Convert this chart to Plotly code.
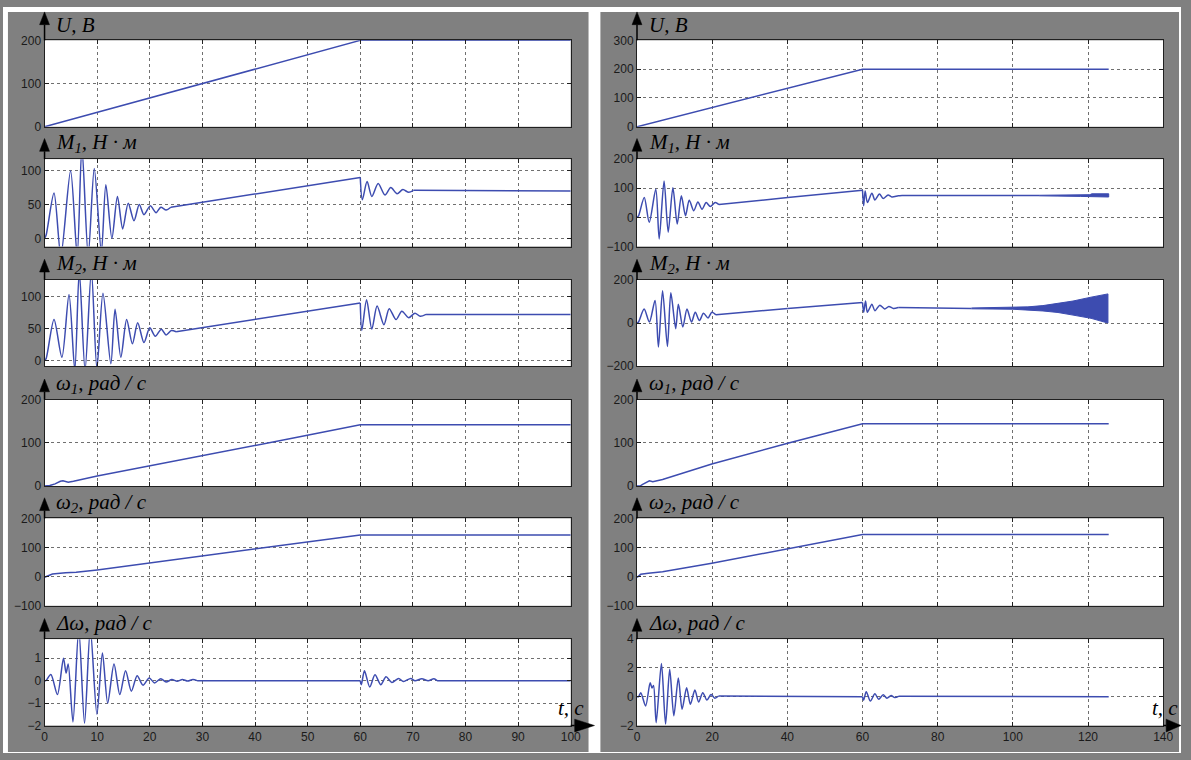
import plotly.graph_objects as go

# ---------------- data ----------------
# Left panel (0..100 s)
L_t_U = [0, 60, 100]
L_U = [0, 200, 200]

L_t_M1 = [0, 0.3, 1.8, 3.1, 4.95, 6.2, 7.1, 8.3, 9.45, 10.8, 11.65, 12.8, 13.85, 14.85, 15.9, 17.0,
          18.0, 18.9, 20.1, 21.2, 22.1, 23.1, 24.0, 60, 60.4, 61.3, 62.2, 63.4, 64.7, 65.8, 67.0,
          68.1, 69.2, 70.1, 100]
L_M1 = [0, 5, 67, -25, 100, -25, 135, -25, 103, -20, 79, 0, 62, 14, 52, 26,
        50, 35, 48, 38, 46, 42, 46, 90, 57, 84, 62, 81, 64, 75, 66,
        72, 68, 71, 70]

L_t_M2 = [0, 0.3, 1.8, 3.3, 4.65, 5.75, 6.6, 7.7, 8.9, 9.95, 11.1, 12.6, 13.4, 14.5, 15.6, 16.7,
          17.7, 18.9, 20.0, 21.05, 22.2, 23.1, 24.1, 25.0, 60, 60.3, 61.2, 62.2, 63.2, 64.5, 65.5,
          66.8, 67.9, 69.2, 70.4, 71.4, 72.5, 100]
L_M2 = [0, 3, 64, 5, 103, -15, 140, -15, 140, -12, 105, -5, 80, 5, 64, 26,
        59, 28, 51, 38, 49, 40, 47, 45, 90, 47, 95, 49, 85, 56, 81,
        64, 77, 67, 74, 69, 72, 72]

L_t_W1 = [0, 1, 2, 3, 3.5, 4.5, 5.5, 7, 10, 48.5, 60, 100]
L_W1 = [0, 1, 5, 11, 12, 9, 11, 15, 23, 114, 142, 142]

L_t_W2 = [0, 1.5, 4, 6, 10, 48.5, 60, 100]
L_W2 = [-2, 9, 13, 15, 23, 117, 143, 143]

L_t_DW = [0, 0.25, 1.2, 2.45, 3.6, 4.1, 4.5, 5.4, 6.5, 7.6, 8.7, 9.95, 11.0, 12.0, 13.2, 14.3, 15.4,
          16.5, 17.6, 18.7, 19.9, 20.9, 22.1, 23.1, 24.2, 25.2, 26.2, 27.2, 28.2, 29.0, 60, 60.2,
          60.8, 61.8, 62.8, 63.9, 64.9, 66.0, 67.3, 68.2, 69.6, 70.4, 71.7, 72.9, 74.0, 74.6, 100]
L_DW = [0, 0, 0.27, -0.62, 1.0, 0.34, 0.74, -1.84, 2.3, -1.9, 2.3, -1.5, 1.23, -1.0, 0.74, -0.62, 0.44,
        -0.47, 0.22, -0.2, 0.12, -0.1, 0.09, -0.06, 0.05, -0.03, 0.05, -0.02, 0.05, 0, 0, -0.18,
        0.44, -0.28, 0.26, -0.18, 0.17, -0.08, 0.1, -0.04, 0.1, 0, 0.08, 0, 0.08, 0, 0]

# Right panel (0..125.5 s)
R_t_U = [0, 60, 125.5]
R_U = [0, 200, 200]

R_t_M1 = [0, 0.4, 1.93, 3.25, 5.0, 5.9, 7.2, 8.3, 9.55, 10.7, 11.8, 12.9, 13.9, 15.1, 16.2, 17.3,
          18.4, 19.5, 20.8, 21.8, 40.1, 60, 60.3, 60.7, 61.3, 62.5, 63.3, 64.5, 65.5, 66.8, 67.8,
          69.5, 70.5, 107]
R_M1 = [0, 5, 68, -17, 97, -74, 125, -51, 102, -23, 74, 6, 59, 23, 53, 28,
        51, 37, 51, 44, 68, 93, 40, 91, 51, 83, 60, 80, 65, 77, 70,
        74, 75, 75]
R_t_M1_band = [107, 112, 118, 120.5, 121, 124, 125.5]
R_M1_hi = [76, 77, 78, 78, 81, 81, 81]
R_M1_lo = [74, 73, 72, 72, 70, 70, 70]

R_t_M2 = [0, 0.4, 1.9, 3.3, 4.8, 5.7, 6.8, 8.1, 9.0, 10.3, 11.0, 12.2, 13.3, 14.5, 15.5, 16.6,
          17.7, 18.9, 19.9, 21.0, 40.1, 60, 60.3, 60.8, 61.3, 62.5, 63.3, 64.6, 65.9, 67.0, 68.2,
          69.5, 89]
R_M2 = [0, 5, 65, 5, 105, -111, 150, -108, 140, -26, 87, -18, 65, 5, 50, 12,
        45, 24, 50, 38, 68, 95, 50, 102, 50, 87, 57, 83, 65, 77, 68,
        72, 68]
R_t_M2_fan = [89, 100, 104, 108, 112, 116, 120.8, 125.3]
R_M2_hi = [70, 72, 75, 81, 90, 102, 120, 135]
R_M2_lo = [66, 64, 61, 56, 49, 37, 22, 0]

R_t_W1 = [0, 0.8, 1.5, 3.3, 4.2, 6.8, 19.9, 40.1, 60, 125.5]
R_W1 = [0, 0, 4, 12, 10, 15, 51, 99, 144, 144]

R_t_W2 = [0, 1.0, 3, 6.8, 19.9, 40.1, 60, 125.5]
R_W2 = [-3, 8, 12, 17, 46, 97, 145, 145]

R_t_DW = [0, 0.4, 1.0, 2.3, 3.5, 4.0, 4.4, 5.1, 6.5, 7.6, 8.7, 9.8, 11.0, 12.0, 13.2, 14.2, 15.4,
          16.4, 17.5, 18.6, 19.7, 20.7, 21.7, 60, 60.3, 61.0, 62.1, 63.3, 64.3, 65.5, 66.5, 67.6,
          68.6, 69.7, 125.5]
R_DW = [0, 0, 0.28, -0.64, 0.97, 0.6, 0.78, -1.8, 2.3, -1.9, 1.9, -1.33, 1.3, -0.87, 0.62, -0.53, 0.46,
        -0.37, 0.28, -0.23, 0.16, -0.1, 0.05, 0, -0.23, 0.34, -0.3, 0.2, -0.18, 0.14, -0.1, 0.08,
        -0.06, 0.04, 0]

LABELS = ["U, B", "M<sub>1</sub>, H · м", "M<sub>2</sub>, H · м",
          "ω<sub>1</sub>, рад / с", "ω<sub>2</sub>, рад / с", "Δω, рад / с"]
T_LABEL = "t, c"

L_ranges = [[0, 200], [-12, 117], [-9, 126], [0, 200], [-100, 200], [-2, 1.85]]
L_ticks = [[0, 100, 200], [0, 50, 100], [0, 50, 100], [0, 100, 200], [-100, 0, 100, 200], [-2, -1, 0, 1]]
R_ranges = [[0, 300], [-100, 200], [-200, 200], [0, 200], [-100, 200], [-2, 4]]
R_ticks = [[0, 100, 200, 300], [-100, 0, 100, 200], [-200, 0, 200], [0, 100, 200], [-100, 0, 100, 200], [-2, 0, 2, 4]]
L_xticks = list(range(0, 101, 10))
R_xticks = list(range(0, 141, 20))

# ---------------- layout geometry ----------------
W, H = 1191, 760
def fx(p): return p / W
def fy(p): return 1 - p / H

ROWS = [(34, 122), (155, 244), (278, 366), (400, 488), (521, 610), (644, 732)]
PANEL_X = [(42, 574), (641, 1173)]
GRAY = "#808080"
LINE = "#3d4cb0"
FRAME = "#202020"
SERIF = "Liberation Serif"

fig = go.Figure()
layout = dict(width=W, height=H, margin=dict(l=0, r=0, t=0, b=0), autosize=False,
              paper_bgcolor=GRAY, plot_bgcolor="white", showlegend=False)
shapes = []
annotations = []

# white outer border and gap between the two gray panels
for (a, b, c, d) in [(0, 5, 0, 760), (592, 604, 0, 760), (1189, 1191, 0, 760), (0, 1191, 0, 5), (0, 1191, 759, 760)]:
    shapes.append(dict(type="rect", xref="paper", yref="paper", x0=fx(a), x1=fx(b), y0=fy(d), y1=fy(c),
                       fillcolor="white", line=dict(width=0), layer="below"))

series = {
    0: [(L_t_U, L_U), (L_t_M1, L_M1), (L_t_M2, L_M2), (L_t_W1, L_W1), (L_t_W2, L_W2), (L_t_DW, L_DW)],
    1: [(R_t_U, R_U), (R_t_M1, R_M1), (R_t_M2, R_M2), (R_t_W1, R_W1), (R_t_W2, R_W2), (R_t_DW, R_DW)],
}
ranges = {0: L_ranges, 1: R_ranges}
ticks = {0: L_ticks, 1: R_ticks}
xranges = {0: [0, 100], 1: [0, 140]}
xticks = {0: L_xticks, 1: R_xticks}
oscillating = {1, 2, 5}


def split_runs(t, v):
    """Split a series into runs: closely sampled oscillation runs (smoothed) and long straight pieces."""
    runs = []
    cur = [0]
    for i in range(1, len(t)):
        if t[i] - t[i - 1] > 3:
            if len(cur) > 1:
                runs.append(("spline", cur))
            runs.append(("linear", [i - 1, i]))
            cur = [i]
        else:
            cur.append(i)
    if len(cur) > 1:
        runs.append(("spline", cur))
    return [(kind, [t[j] for j in idx], [v[j] for j in idx]) for kind, idx in runs]


tickfont = dict(family="Liberation Sans", size=12, color="#1a1a1a")
labelfont = dict(family=SERIF, size=21, color="black", style="italic")

for p in (0, 1):
    x0p, x1p = PANEL_X[p]
    for r in range(6):
        k = p * 6 + r + 1
        xa = "xaxis" if k == 1 else f"xaxis{k}"
        ya = "yaxis" if k == 1 else f"yaxis{k}"
        xr = "x" if k == 1 else f"x{k}"
        yr = "y" if k == 1 else f"y{k}"
        top, bot = ROWS[r]
        layout[xa] = dict(domain=[fx(x0p), fx(x1p)], anchor=yr, range=xranges[p],
                          tickvals=xticks[p], showticklabels=(r == 5), ticks="inside", ticklen=4,
                          tickcolor=FRAME, showline=True, linecolor=FRAME, linewidth=1, mirror="ticks",
                          showgrid=True, gridcolor="#707070", griddash="dot", gridwidth=1,
                          zeroline=False, tickfont=tickfont, fixedrange=True)
        layout[ya] = dict(domain=[fy(bot), fy(top)], anchor=xr, range=ranges[p][r],
                          tickvals=ticks[p][r], ticks="inside", ticklen=4,
                          tickcolor=FRAME, showline=True, linecolor=FRAME, linewidth=1, mirror="ticks",
                          showgrid=True, gridcolor="#707070", griddash="dot", gridwidth=1,
                          zeroline=False, tickfont=tickfont, fixedrange=True)
        t, v = series[p][r]
        if r in oscillating:
            pieces = split_runs(t, v)
        else:
            pieces = [("linear", t, v)]
        for kind, tt, vv in pieces:
            fig.add_trace(go.Scatter(x=tt, y=vv, mode="lines",
                                     line=dict(color=LINE, width=1.5, shape=kind,
                                               **({"smoothing": 0.8} if kind == "spline" else {})),
                                     xaxis=xr, yaxis=yr, hoverinfo="skip"))
        # y-axis arrow
        tip = 5 if r == 0 else top - 21
        base = tip + 13
        shapes.append(dict(type="line", xref="paper", yref="paper", x0=fx(x0p), x1=fx(x0p),
                           y0=fy(top), y1=fy(base), line=dict(color="black", width=1.5)))
        shapes.append(dict(type="path", xref="paper", yref="paper",
                           path=f"M {fx(x0p-5)},{fy(base)} L {fx(x0p+5)},{fy(base)} L {fx(x0p)},{fy(tip)} Z",
                           fillcolor="black", line=dict(color="black", width=0.5)))
        annotations.append(dict(xref="paper", yref="paper", x=fx(x0p + 10), y=fy(top - 16),
                                xanchor="left", yanchor="middle", showarrow=False,
                                text=LABELS[r], font=labelfont))

# bands (dense oscillation envelopes) on right panel
fig.add_trace(go.Scatter(x=R_t_M1_band + R_t_M1_band[::-1], y=R_M1_hi + R_M1_lo[::-1], mode="lines",
                         fill="toself", fillcolor=LINE, line=dict(color=LINE, width=1),
                         xaxis="x8", yaxis="y8", hoverinfo="skip"))
fig.add_trace(go.Scatter(x=R_t_M2_fan + R_t_M2_fan[::-1], y=R_M2_hi + R_M2_lo[::-1], mode="lines",
                         fill="toself", fillcolor=LINE, line=dict(color=LINE, width=1),
                         xaxis="x9", yaxis="y9", hoverinfo="skip"))

# x-axis arrows and t label
for p, (base_x, tip_x, lab_x) in enumerate([(578, 598, 574), (1176, 1191, 1175)]):
    x1p = PANEL_X[p][1]
    yb = ROWS[5][1]
    shapes.append(dict(type="line", xref="paper", yref="paper", x0=fx(x1p), x1=fx(base_x),
                       y0=fy(yb), y1=fy(yb), line=dict(color="black", width=1.5)))
    shapes.append(dict(type="path", xref="paper", yref="paper",
                       path=f"M {fx(base_x)},{fy(yb-6.5)} L {fx(base_x)},{fy(yb+6.5)} L {fx(tip_x)},{fy(yb)} Z",
                       fillcolor="black", line=dict(color="black", width=0.5)))
    annotations.append(dict(xref="paper", yref="paper", x=fx(lab_x), y=fy(714),
                            xanchor="center", yanchor="middle", showarrow=False,
                            text=T_LABEL, font=labelfont))

layout["shapes"] = shapes
layout["annotations"] = annotations
fig.update_layout(**layout)

fig.write_html("out.html", config={"displayModeBar": False},
               post_script="document.body.style.margin='0';document.body.style.overflow='hidden';")
